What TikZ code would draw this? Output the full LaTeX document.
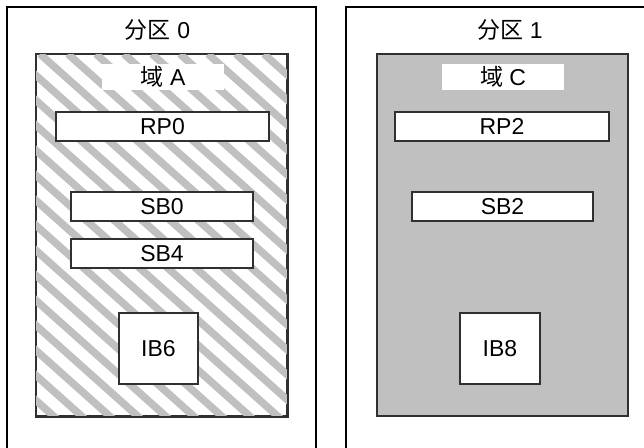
\documentclass[tikz,border=0pt]{standalone}
\usepackage{fontspec}
\setmainfont{Liberation Sans}
\newfontfamily\cjk{Noto Sans CJK SC}
\usepackage{tikz}

\definecolor{hatchgray}{HTML}{C0C0C0}
\definecolor{edgegray}{HTML}{303030}

\begin{document}
\begin{tikzpicture}[x=1pt,y=-1pt,
    every node/.style={rectangle,inner sep=0pt,font=\fontsize{23}{27}\selectfont},
    part/.style={draw=black,line width=1.3pt,fill=white},
    dom/.style={draw=edgegray,line width=1.5pt},
    lbl/.style={fill=white,minimum width=122pt,minimum height=26pt},
    brd/.style={draw=edgegray,line width=1.5pt,fill=white,minimum height=29pt},
    stripe/.style={hatchgray,line width=7.5pt}]
  \useasboundingbox (0,0) rectangle (644,447);
  \clip (0,0) rectangle (644,447);

  \node (p0) [part,minimum width=309pt,minimum height=460pt] at (161.5,237) {};
  \node (p1) [part,minimum width=314pt,minimum height=460pt] at (503,237) {};
  \node (t0) at (157.5,30) {{\cjk 分区} 0};
  \node (t1) at (510,30) {{\cjk 分区} 1};

  \node (dA) [dom,fill=white,minimum width=251pt,minimum height=362pt] at (161.5,235) {};
  \node (dC) [dom,fill=hatchgray,minimum width=251pt,minimum height=362pt] at (502.5,235) {};

  \begin{scope}
    \clip (dA.north west) rectangle (dA.south east);
    \foreach \k in {-16,...,10}
      \draw[stripe] (40+\k*28,54) -- ++(420,375);
  \end{scope}
  \draw[dom] (dA.north west) rectangle (dA.south east);

  \node (lA) [lbl] at (163,77) {{\cjk 域} A};
  \node (lC) [lbl] at (503,77) {{\cjk 域} C};

  \node (rp0) [brd,minimum width=213pt] at (162.5,126.5) {RP0};
  \node (rp2) [brd,minimum width=214pt] at (502,126.5) {RP2};

  \node (sb0) [brd,minimum width=182pt] at (162,206.5) {SB0};
  \node (sb4) [brd,minimum width=182pt] at (162,253.5) {SB4};
  \node (sb2) [brd,minimum width=181pt] at (502.5,206.5) {SB2};

  \node (ib6) [brd,minimum width=79pt,minimum height=71pt] at (158.5,348.5) {IB6};
  \node (ib8) [brd,minimum width=80pt,minimum height=71pt] at (500,348.5) {IB8};
\end{tikzpicture}
\end{document}
